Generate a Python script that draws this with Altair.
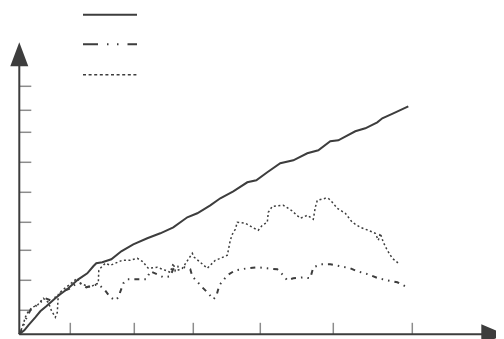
import altair as alt
import pandas as pd

# --- data (x, y in chart units, origin at axes corner) ---
solid_x = [0, 5, 9, 16, 21, 27, 36, 41, 49, 59, 68, 74, 77, 83, 92, 102, 114, 128, 141, 154,
           168, 178, 191, 201, 214, 228, 237, 248, 261, 274, 288, 299, 311, 319, 336, 346, 358, 363, 374, 389]
solid_y = [0, 4, 9, 17, 23, 28, 36, 40, 46, 55, 61, 68, 71, 72, 75, 83, 90, 96, 101, 107,
           117, 121, 129, 136, 143, 152, 154, 162, 171, 174, 181, 184, 193, 194, 203, 206, 212, 216, 221, 228]

dashdot_x = [0, 3, 7, 11, 16, 21, 26, 31, 36, 41, 46, 51, 56, 61, 67, 74, 79, 85, 91, 96, 99, 104,
             108, 116, 127, 131, 138, 144, 151, 155, 165, 171, 173, 183, 189, 194, 197, 200, 208, 216,
             228, 238, 248, 258, 264, 268, 274, 284, 291, 294, 302, 311, 321, 331, 338, 349, 359, 368,
             378, 386, 389]
dashdot_y = [0, 6, 16, 24, 28, 32, 36, 34, 37, 41, 44, 46, 50, 51, 47, 49, 50, 45, 37, 34, 37, 51,
             55, 55, 55, 63, 60, 57, 58, 68, 67, 65, 58, 47, 41, 35, 38, 49, 59, 64,
             66, 67, 66, 65, 59, 54, 56, 57, 56, 67, 70, 70, 68, 66, 63, 60, 56, 54,
             52, 48, 47]

dotted_x = [0, 3, 6, 9, 13, 18, 24, 29, 32, 36, 38, 39, 43, 53, 58, 61, 71, 76, 79, 79.5, 81, 86,
            91, 103, 111, 118, 123, 129, 138, 146, 151, 154, 156, 163, 173, 175, 181, 188, 196, 201,
            208, 211, 213, 216, 218, 226, 233, 239, 243, 248, 249, 253, 264, 272, 281, 288, 294, 296,
            298, 306, 309, 313, 318, 326, 333, 341, 349, 356, 359, 361, 364, 368, 373, 378, 379]
dotted_y = [0, 7, 17, 23, 27, 29, 36, 32, 24, 17, 22, 40, 44, 52, 56, 51, 47, 50, 51, 64, 66, 71,
            69, 74, 74, 76, 73, 66, 67, 64, 62, 71, 63, 66, 81, 77, 72, 66, 74, 76,
            79, 94, 100, 105, 112, 111, 107, 104, 109, 112, 122, 128, 129, 124, 116, 119, 115, 127,
            134, 136, 136, 132, 126, 121, 112, 107, 104, 101, 94, 101, 92, 84, 76, 72, 70]

x_ticks = [51, 115, 174, 241, 314, 393]
y_ticks = [24, 54, 84, 112, 142, 172, 202, 224, 248]

x_axis_end = 465
y_axis_end = 270
x_arrow_at = 474
y_arrow_at = 280

INK = "#3d3d3d"
TICK = "#8c8c8c"

xs = alt.Scale(domain=[0, 485], range=[11.3, 496.3])
ys = alt.Scale(domain=[0, 300], range=[326.3, 26.3])

def X(f="x"):
    return alt.X(f"{f}:Q", scale=xs, axis=None)

def Y(f="y"):
    return alt.Y(f"{f}:Q", scale=ys, axis=None)

solid_df = pd.DataFrame({"x": solid_x, "y": solid_y, "i": range(len(solid_x))})
dd_df = pd.DataFrame({"x": dashdot_x, "y": dashdot_y, "i": range(len(dashdot_x))})
dot_df = pd.DataFrame({"x": dotted_x, "y": dotted_y, "i": range(len(dotted_x))})

solid = alt.Chart(solid_df).mark_line(color=INK, strokeWidth=2).encode(
    x=X(), y=Y(), order="i:Q")
dashdot = alt.Chart(dd_df).mark_line(color=INK, strokeWidth=2,
                                     strokeDash=[5, 5, 1.5, 5, 1.5, 5]).encode(
    x=X(), y=Y(), order="i:Q")
dotted = alt.Chart(dot_df).mark_line(color=INK, strokeWidth=1.5,
                                     strokeDash=[2, 2.5]).encode(
    x=X(), y=Y(), order="i:Q")

# axes
xaxis = alt.Chart(pd.DataFrame({"x": [0], "x2": [x_axis_end], "y": [0]})).mark_rule(
    color=INK, strokeWidth=2).encode(x=X(), x2="x2:Q", y=Y())
yaxis = alt.Chart(pd.DataFrame({"y": [0], "y2": [y_axis_end], "x": [0]})).mark_rule(
    color=INK, strokeWidth=2).encode(y=Y(), y2="y2:Q", x=X())

xt_df = pd.DataFrame({"x": x_ticks, "y": [0] * len(x_ticks), "y2": [11.5] * len(x_ticks)})
xticks = alt.Chart(xt_df).mark_rule(color=TICK, strokeWidth=1.5).encode(
    x=X(), y=Y(), y2="y2:Q")
yt_df = pd.DataFrame({"y": y_ticks, "x": [0] * len(y_ticks), "x2": [12] * len(y_ticks)})
yticks = alt.Chart(yt_df).mark_rule(color=TICK, strokeWidth=1.5).encode(
    y=Y(), x=X(), x2="x2:Q")

arrow_up = alt.Chart(pd.DataFrame({"x": [0], "y": [y_arrow_at]})).mark_point(
    shape="M0,-1L0.75,1L-0.75,1Z", size=576, filled=True, opacity=1, color=INK,
    strokeWidth=0).encode(x=X(), y=Y())
arrow_right = alt.Chart(pd.DataFrame({"x": [x_arrow_at], "y": [0]})).mark_point(
    shape="M1,0L-1,-0.83L-1,0.83Z", size=576, filled=True, opacity=1, color=INK,
    strokeWidth=0).encode(x=X(), y=Y())

# manual legend samples (no labels in the reference)
leg_solid = alt.Chart(pd.DataFrame({"a": [0]})).mark_rule(color=INK, strokeWidth=2).encode(
    x=alt.value(75), x2=alt.value(129), y=alt.value(6.7))
leg_dd = alt.Chart(pd.DataFrame({"a": [0]})).mark_rule(
    color=INK, strokeWidth=2, strokeDash=[15, 9, 1.5, 8.5, 1.5, 9]).encode(
    x=alt.value(75), x2=alt.value(129), y=alt.value(36.3))
leg_dot = alt.Chart(pd.DataFrame({"a": [0]})).mark_rule(
    color=INK, strokeWidth=1.5, strokeDash=[3, 2.6]).encode(
    x=alt.value(75), x2=alt.value(129), y=alt.value(66.7))

chart = alt.layer(
    xticks, yticks, xaxis, yaxis, arrow_up, arrow_right,
    dotted, dashdot, solid, leg_solid, leg_dd, leg_dot
).properties(
    width=488, height=336, padding=0,
    autosize=alt.AutoSizeParams(type="none"),
    background="white"
).configure_view(stroke=None)

chart.save("out.html", embed_options={"renderer": "svg", "actions": False})
